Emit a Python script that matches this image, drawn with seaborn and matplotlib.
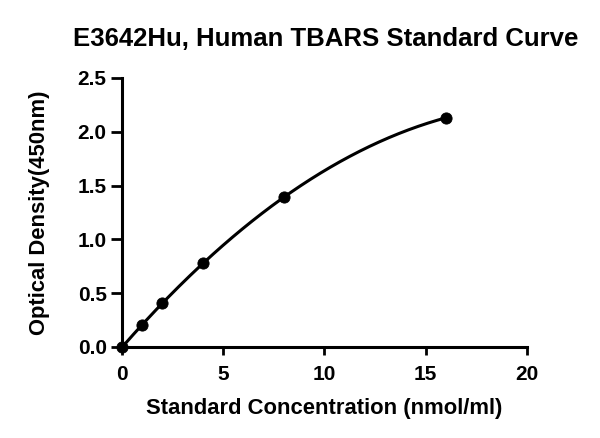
"""Standard curve for the E3642Hu human TBARS ELISA kit."""

import matplotlib
matplotlib.use("Agg")
import matplotlib.pyplot as plt
import numpy as np
import pandas as pd
import seaborn as sns


CONCENTRATION = [0, 1, 2, 4, 8, 16]
OPTICAL_DENSITY = [0.0, 0.20, 0.41, 0.78, 1.39, 2.13]
X_TICKS = [0, 5, 10, 15, 20]
Y_TICKS = [0.0, 0.5, 1.0, 1.5, 2.0, 2.5]


def main():
    sns.set_theme(style="ticks")
    plt.rcParams["font.family"] = ["Liberation Sans", "DejaVu Sans"]
    plt.rcParams["font.weight"] = "bold"

    points = pd.DataFrame({"conc": CONCENTRATION, "od": OPTICAL_DENSITY})
    # quadratic fit through the standards
    coeffs = np.polyfit(points["conc"], points["od"], 2)
    grid = np.linspace(0, max(CONCENTRATION), 200)
    curve = pd.DataFrame({"conc": grid, "od": np.polyval(coeffs, grid)})

    fig = plt.figure(figsize=(6, 4.38), dpi=100)
    ax = fig.add_axes([0.2033, 0.2078, 0.6747, 0.6142])

    sns.lineplot(data=curve, x="conc", y="od", color="black", linewidth=2.2, ax=ax)
    sns.scatterplot(
        data=points, x="conc", y="od", color="black", s=65,
        edgecolor="black", zorder=3, clip_on=False, ax=ax,
    )

    ax.set_xlim(0, 20)
    ax.set_ylim(0, 2.5)
    ax.set_xticks(X_TICKS)
    ax.set_yticks(Y_TICKS)
    ax.set_yticklabels([f"{v:.1f}" for v in Y_TICKS])
    ax.tick_params(width=2, labelsize=15, color="black", labelcolor="black")
    ax.tick_params(axis="x", length=6, pad=7)
    ax.tick_params(axis="y", length=8, pad=3)
    for label in ax.get_xticklabels() + ax.get_yticklabels():
        label.set_fontweight("bold")
    sns.despine(ax=ax)
    for side in ("left", "bottom"):
        ax.spines[side].set_linewidth(2.2)
        ax.spines[side].set_color("black")

    ax.set_xlabel("Standard Concentration (nmol/ml)", fontsize=15.8, fontweight="bold",
                  labelpad=10, color="black")
    ax.set_ylabel("Optical Density(450nm)", fontsize=15.8, fontweight="bold",
                  labelpad=20, color="black")
    fig.suptitle("E3642Hu, Human TBARS Standard Curve", fontsize=18.5, fontweight="bold",
                 y=0.938, x=0.542, color="black")

    fig.savefig("out.png", dpi=100)
    plt.close(fig)


if __name__ == "__main__":
    main()
